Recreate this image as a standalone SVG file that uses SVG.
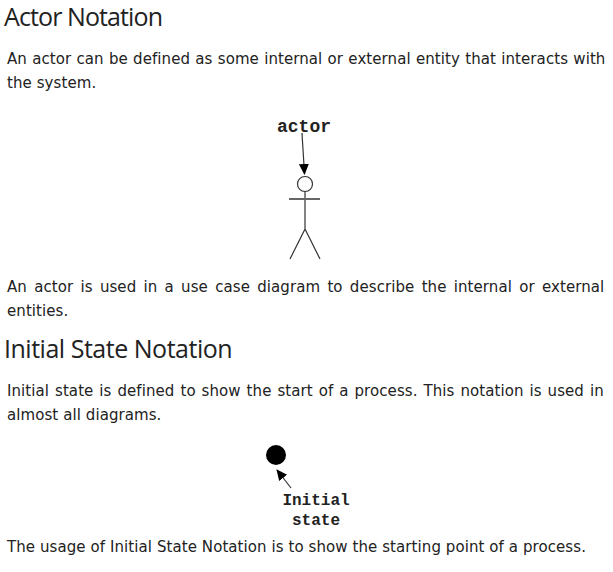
<svg xmlns="http://www.w3.org/2000/svg" width="613" height="572" viewBox="0 0 613 572">
<style>
.h{font-family:"Open Sans","Noto Sans",sans-serif;font-size:25px;fill:#222}
.b{font-family:"DejaVu Sans",Verdana,sans-serif;font-size:15px;letter-spacing:.08px;fill:#222}
.m{font-family:"Liberation Mono","Courier New",monospace;font-size:16px;font-weight:bold;fill:#222}
.l{fill:none;stroke:#333;stroke-width:1.2}
</style>
<defs><marker id="a" markerWidth="12" markerHeight="12" refX="10" refY="5" orient="auto" markerUnits="userSpaceOnUse"><path d="M0 0L11 5L0 10z" fill="#000"/></marker></defs>
<rect width="613" height="572" fill="#fff"/>
<text class="h" x="4" y="26" letter-spacing="-.9">Actor Notation</text>
<text class="b" x="7" y="64" word-spacing=".4">An actor can be defined as some internal or external entity that interacts with</text>
<text class="b" x="7" y="88">the system.</text>
<g id="actor-label"><text class="m" x="304" y="132" text-anchor="middle" style="font-size:18px">actor</text></g>
<g id="actor">
<circle class="l" cx="305" cy="184" r="7.500"/>
<path class="l" d="M305 191.500V229L290 259M305 229L320 259"/>
<path d="M289 199H320" fill="none" stroke="#666" stroke-width="2"/>
</g>
<text class="b" x="7" y="292" word-spacing="2.4">An actor is used in a use case diagram to describe the internal or external</text>
<text class="b" x="7" y="316">entities.</text>
<text class="h" x="4" y="358" letter-spacing="-.48">Initial State Notation</text>
<text class="b" x="7" y="396" word-spacing="1.1">Initial state is defined to show the start of a process. This notation is used in</text>
<text class="b" x="7" y="420">almost all diagrams.</text>
<g id="initial-state"><circle cx="276" cy="455" r="10" fill="#000"/></g>
<g id="initial-label"><text class="m" x="316" y="505" text-anchor="middle">Initial</text><text class="m" x="316" y="525" text-anchor="middle">state</text></g>
<g id="connectors">
<path class="l" d="M302 133L304.500 174" marker-end="url(#a)"/>
<path class="l" d="M291 488L277 470" marker-end="url(#a)"/>
</g>
<text class="b" x="7" y="552">The usage of Initial State Notation is to show the starting point of a process.</text>
</svg>
